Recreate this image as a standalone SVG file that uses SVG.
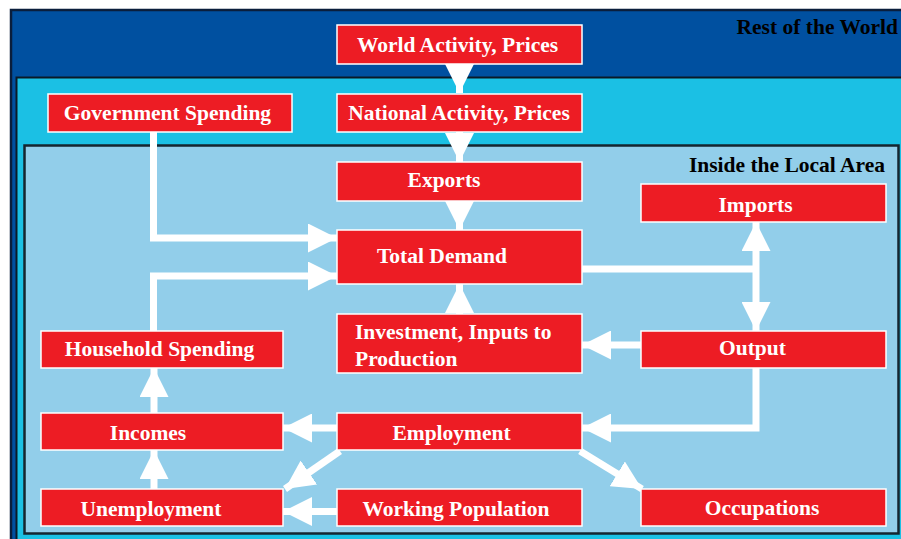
<svg xmlns="http://www.w3.org/2000/svg" width="901" height="539" viewBox="0 0 901 539">
<style>
.box{fill:#ED1C24;stroke:#FFFFFF;stroke-width:1.5}
.lbl{font-family:"Liberation Serif","Times New Roman",serif;font-weight:bold;font-size:21.5px;fill:#FFFFFF;text-anchor:middle}
.lft{text-anchor:start}
.area{font-family:"Liberation Serif","Times New Roman",serif;font-weight:bold;font-size:21.5px;fill:#000000}
.con{fill:none;stroke:#FFFFFF;stroke-width:7;stroke-linejoin:miter;marker-end:url(#ah)}
</style>
<defs>
<marker id="ah" markerUnits="userSpaceOnUse" markerWidth="29" markerHeight="29" refX="29" refY="14.5" orient="auto-start-reverse" viewBox="0 0 29 29">
<path d="M0,0 L29,14.5 L0,29 Z" fill="#FFFFFF"/>
</marker>
</defs>
<rect width="901" height="539" fill="#FFFFFF"/>
<g id="rest-of-world">
<rect x="11" y="10" width="895" height="535" fill="#0050A0" stroke="#0A1E3C" stroke-width="2.5"/>
<text class="area" x="898" y="34" text-anchor="end">Rest of the World</text>
</g>
<g id="national">
<rect x="16.5" y="77.5" width="890" height="470" fill="#1BC0E4" stroke="#0A1A28" stroke-width="2"/>
</g>
<g id="local-area">
<rect x="24.5" y="145.5" width="874" height="388" fill="#92CEEA" stroke="#15252F" stroke-width="2.5"/>
<text class="area" x="885" y="172" text-anchor="end">Inside the Local Area</text>
</g>
<g id="connectors">
<path class="con" d="M459.5,64 V93"/>
<path class="con" d="M459.5,132 V162"/>
<path class="con" d="M459.5,201 V230"/>
<path class="con" d="M459.5,314 V284"/>
<path class="con" d="M153.5,132 V238 H337"/>
<path class="con" d="M153.5,331 V276 H337"/>
<path class="con" d="M582,269 H756" style="marker-end:none"/>
<path class="con" d="M756,222 V331" style="marker-start:url(#ah)"/>
<path class="con" d="M641,345 H582"/>
<path class="con" d="M756,368 V428 H582"/>
<path class="con" d="M337,428 H283"/>
<path class="con" d="M340,451 L285,489"/>
<path class="con" d="M337,511.5 H283"/>
<path class="con" d="M154,413 V368"/>
<path class="con" d="M154,489 V450"/>
<path class="con" d="M580,451 L642,489"/>
</g>
<g id="world-activity">
<rect class="box" x="337" y="25" width="245" height="39"/>
<text class="lbl" x="457.5" y="52">World Activity, Prices</text>
</g>
<g id="government-spending">
<rect class="box" x="48" y="94" width="244" height="38"/>
<text class="lbl" x="167.5" y="120">Government Spending</text>
</g>
<g id="national-activity">
<rect class="box" x="337" y="94" width="245" height="38"/>
<text class="lbl" x="459" y="120">National Activity, Prices</text>
</g>
<g id="exports">
<rect class="box" x="337" y="162" width="245" height="39"/>
<text class="lbl" x="444" y="187">Exports</text>
</g>
<g id="imports">
<rect class="box" x="641" y="184" width="245" height="38"/>
<text class="lbl" x="755.5" y="212">Imports</text>
</g>
<g id="total-demand">
<rect class="box" x="337" y="230" width="245" height="54"/>
<text class="lbl" x="442" y="263">Total Demand</text>
</g>
<g id="investment">
<rect class="box" x="337" y="314" width="245" height="59"/>
<text class="lbl lft" x="355" y="339">Investment, Inputs to</text>
<text class="lbl lft" x="355" y="366">Production</text>
</g>
<g id="household-spending">
<rect class="box" x="41" y="331" width="242" height="37"/>
<text class="lbl" x="159.5" y="356">Household Spending</text>
</g>
<g id="output">
<rect class="box" x="641" y="331" width="245" height="37"/>
<text class="lbl" x="752.5" y="355">Output</text>
</g>
<g id="incomes">
<rect class="box" x="41" y="413" width="242" height="37"/>
<text class="lbl" x="148" y="440">Incomes</text>
</g>
<g id="employment">
<rect class="box" x="337" y="413" width="245" height="37"/>
<text class="lbl" x="451.5" y="440">Employment</text>
</g>
<g id="unemployment">
<rect class="box" x="41" y="489" width="242" height="37"/>
<text class="lbl" x="151" y="516">Unemployment</text>
</g>
<g id="working-population">
<rect class="box" x="337" y="489" width="245" height="37"/>
<text class="lbl" x="456" y="516">Working Population</text>
</g>
<g id="occupations">
<rect class="box" x="641" y="489" width="245" height="37"/>
<text class="lbl" x="762" y="515">Occupations</text>
</g>
</svg>
